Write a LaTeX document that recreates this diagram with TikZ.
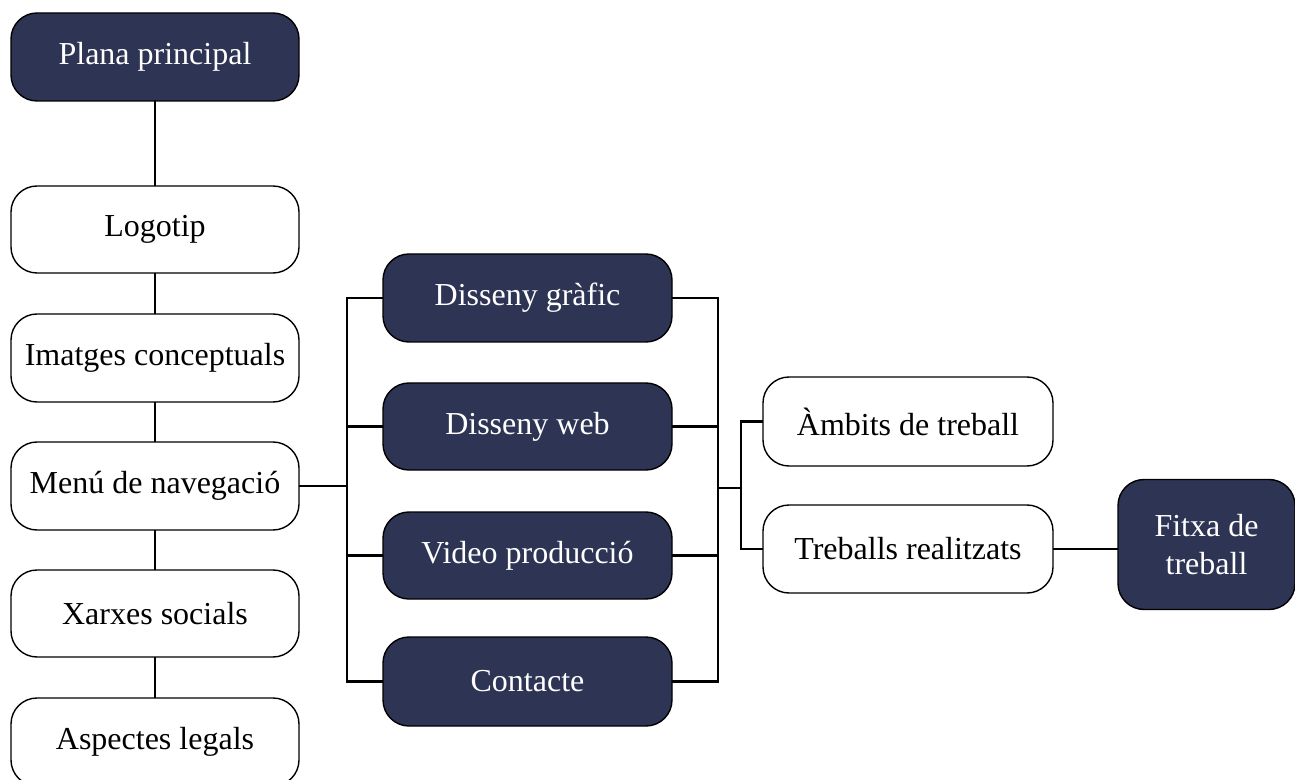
\documentclass[tikz,border=0pt]{standalone}
\usepackage{fontspec}
\setmainfont{Liberation Serif}
\definecolor{navy}{RGB}{46,52,84}
\begin{document}
\begin{tikzpicture}[x=0.5pt,y=-0.5pt,
  box/.style={draw=black,line width=0.7pt,rounded corners=13pt,inner sep=0pt,outer sep=0pt,
    minimum width=144pt,minimum height=44pt,font=\fontsize{16}{19}\selectfont,align=center},
  darkbox/.style={box,fill=navy,text=white},
  lightbox/.style={box,fill=white,text=black},
  conn/.style={draw=black,line width=1.2pt,line join=miter}]
\useasboundingbox (0,0) rectangle (1295,780);
\clip (0,0) rectangle (1295,780);
% left column
\node[darkbox] (plana) at (155,57) {Plana principal};
\node[lightbox,minimum height=43.5pt] (logo) at (155,229.5) {Logotip};
\node[lightbox] (imat) at (155,358) {Imatges conceptuals};
\node[lightbox] (menu) at (155,486) {Menú de navegació};
\node[lightbox,minimum height=43.5pt] (xarx) at (155,613.5) {Xarxes socials};
\node[lightbox] (asp) at (155,742) {Aspectes legals};
% middle column
\node[darkbox,minimum width=144.5pt] (dg) at (527.5,298) {Disseny gràfic};
\node[darkbox,minimum width=144.5pt,minimum height=43.5pt] (dw) at (527.5,426.5) {Disseny web};
\node[darkbox,minimum width=144.5pt,minimum height=43.5pt] (vp) at (527.5,555.5) {Video producció};
\node[darkbox,minimum width=144.5pt,minimum height=44.5pt] (ct) at (527.5,681.5) {Contacte};
% right column
\node[lightbox,minimum width=145pt,minimum height=44.5pt] (amb) at (908,421.5) {Àmbits de treball};
\node[lightbox,minimum width=145pt] (trb) at (908,549) {Treballs realitzats};
\node[darkbox,minimum width=88.5pt,minimum height=65pt] (fit) at (1206.5,544.5) {Fitxa de\\treball};
% bus coordinates
\coordinate (bl) at (347,486);
\coordinate (br) at (718,488);
\coordinate (bb) at (741,488);
% vertical chain
\draw[conn] (plana.south) -- (logo.north);
\draw[conn] (logo.south) -- (imat.north);
\draw[conn] (imat.south) -- (menu.north);
\draw[conn] (menu.south) -- (xarx.north);
\draw[conn] (xarx.south) -- (asp.north);
% left bus
\draw[conn] (menu.east) -- (bl);
\draw[conn] (dg.west) -- (dg.west -| bl) -- (ct.west -| bl) -- (ct.west);
\draw[conn] (dw.west) -- (dw.west -| bl);
\draw[conn] (vp.west) -- (vp.west -| bl);
% right bus
\draw[conn] (dg.east) -- (dg.east -| br) -- (ct.east -| br) -- (ct.east);
\draw[conn] (dw.east) -- (dw.east -| br);
\draw[conn] (vp.east) -- (vp.east -| br);
\draw[conn] (br) -- (bb);
\draw[conn] (amb.west) -- (amb.west -| bb) -- (trb.west -| bb) -- (trb.west);
\draw[conn] (trb.east) -- (trb.east -| fit.west);
\end{tikzpicture}
\end{document}
